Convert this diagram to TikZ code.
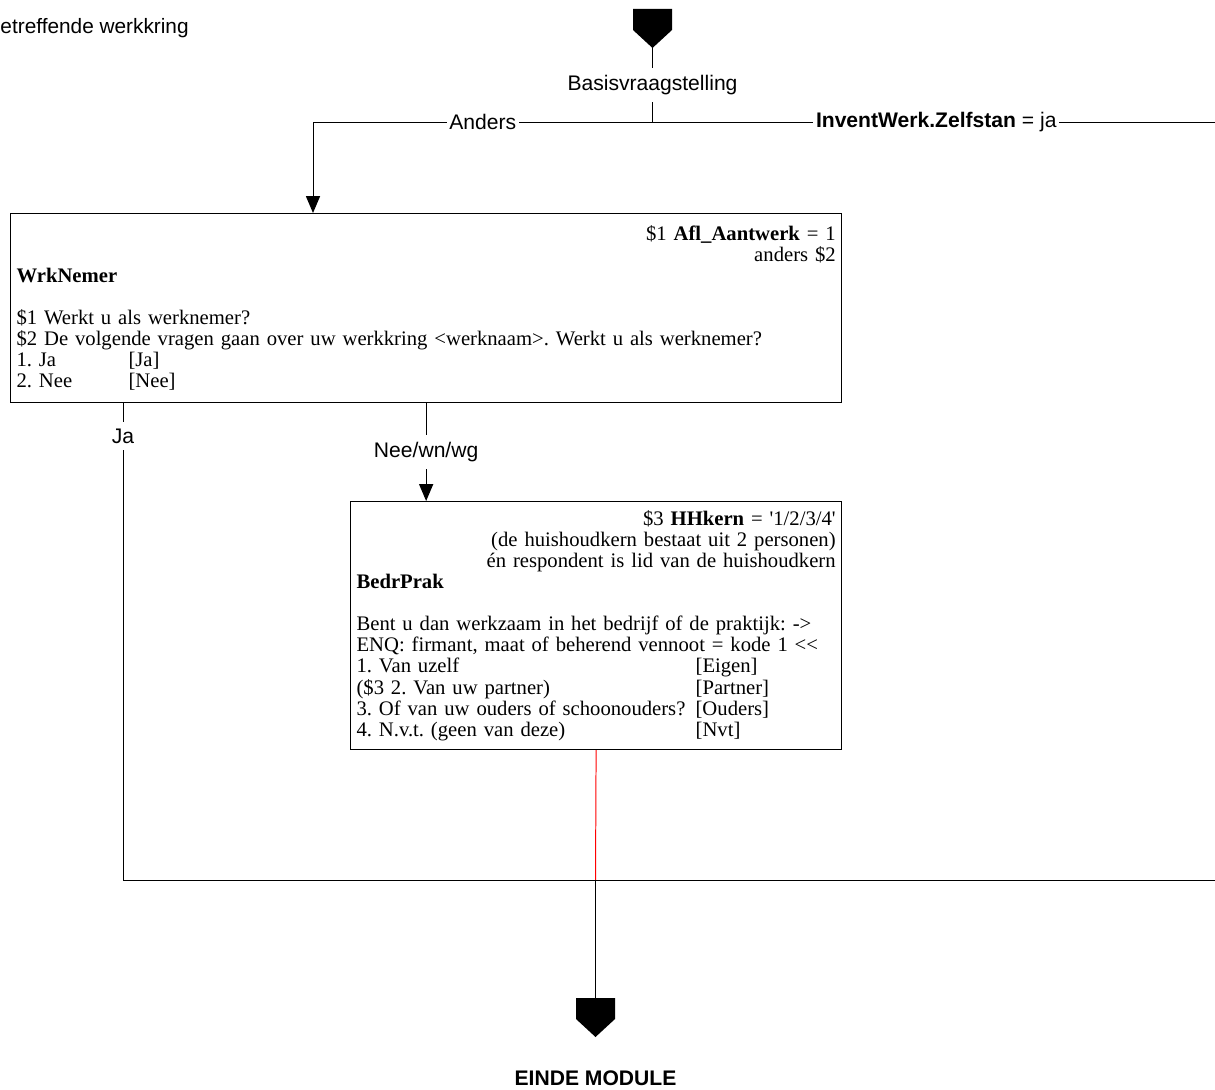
\documentclass[tikz,border=0pt]{standalone}
\usepackage{fontspec}
\setmainfont{Liberation Serif}
\setsansfont{Liberation Sans}
\usetikzlibrary{calc}
\usetikzlibrary{positioning}
\usetikzlibrary{arrows.meta}
\frenchspacing

\begin{document}
\begin{tikzpicture}[x=0.025cm,y=-0.025cm,line width=0.7pt,>={Triangle[length=12pt,width=10pt]},
  qbox/.style={draw,rectangle,anchor=north west,align=left,inner xsep=4.3pt,inner ysep=0pt,font=\fontsize{14.7pt}{15pt}\selectfont},
  lbl/.style={fill=white,inner xsep=2pt,inner ysep=5pt,font=\sffamily\fontsize{15pt}{18pt}\selectfont},
  stopmark/.pic={\fill (-19.5,0) -- (19.5,0) -- (19.5,21) -- (0,39) -- (-19.5,21) -- cycle;
    \coordinate (-top) at (0,0); \coordinate (-tip) at (0,39);}]

\useasboundingbox (0,0) rectangle (1215,1090);

\node[anchor=base west,inner sep=0pt,font=\sffamily\fontsize{14.8pt}{18pt}\selectfont] (title) at (0,34) {etreffende werkkring};

\pic (start) at (652.5,9) {stopmark};
\pic (end) at (595.5,998) {stopmark};

\node[qbox,text width=20.475cm,minimum height=4.725cm] (box1) at (10,213) {%
\leavevmode\hfill\$1 \textbf{Afl\_Aantwerk} = 1\\
\leavevmode\hfill anders \$2\\
\textbf{WrkNemer}\\[15pt]
\$1 Werkt u als werknemer?\\
\$2 De volgende vragen gaan over uw werkkring <werknaam>. Werkt u als werknemer?\\
\makebox[2.8cm][l]{1. Ja}[Ja]\\
\makebox[2.8cm][l]{2. Nee}[Nee]};

\node[qbox,text width=11.975cm,minimum height=6.2cm] (box2) at (350,501) {%
\leavevmode\hfill\$3 \textbf{HHkern} = \textquotesingle 1/2/3/4\textquotesingle\\
\leavevmode\hfill(de huishoudkern bestaat uit 2 personen)\\
\leavevmode\hfill én respondent is lid van de huishoudkern\\
\textbf{BedrPrak}\\[15pt]
Bent u dan werkzaam in het bedrijf of de praktijk: ->\\
ENQ: firmant, maat of beherend vennoot = kode 1 <\kern0pt<\\
\makebox[8.475cm][l]{1. Van uzelf}[Eigen]\\
\makebox[8.475cm][l]{(\$3 2. Van uw partner)}[Partner]\\
\makebox[8.475cm][l]{3. Of van uw ouders of schoonouders?}[Ouders]\\
\makebox[8.475cm][l]{4. N.v.t. (geen van deze)}[Nvt]};

\node[font=\sffamily\bfseries\fontsize{15pt}{18pt}\selectfont] (endlbl) at (595.5,1078) {EINDE MODULE};

% split points
\coordinate (split) at (652.5,122);
\coordinate (anders) at (313,122);
\coordinate (zelf) at (1220,122);
\coordinate (join) at (595.5,880);
\coordinate (jacorner) at (123,880);

\draw (start-tip) -- node[lbl]{Basisvraagstelling} (split);
\draw[->] (split) -- node[lbl]{Anders} (anders) -- (anders |- box1.north);
\draw (split) -- node[lbl]{\textbf{InventWerk.Zelfstan} = ja} (zelf) -- (zelf |- join) -- (join);
\draw (jacorner |- box1.south) -- node[lbl,pos=0.069]{Ja} (jacorner) -- (join);
\draw[->] (box1.south) -- node[lbl]{Nee/wn/wg} (box1.south |- box2.north);
\draw[red] (box2.south) -- (join);
\draw (join) -- (end-top);
\end{tikzpicture}
\end{document}
